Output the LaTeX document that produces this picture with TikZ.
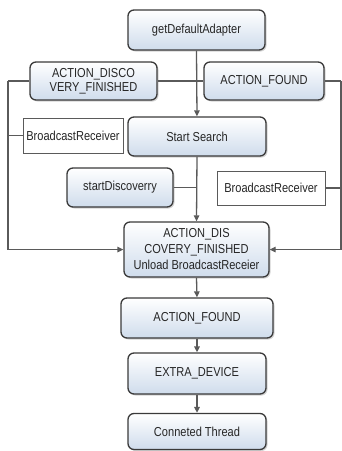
\documentclass[tikz,border=0pt]{standalone}
\usepackage{fontspec}
\setmainfont{Liberation Sans}[FakeStretch=0.85]
\usetikzlibrary{shadows,arrows.meta}
\definecolor{boxline}{HTML}{3A3A3A}
\definecolor{conn}{HTML}{5A5A5A}
\definecolor{boxbot}{HTML}{CFDCEC}
\tikzset{
  x=1pt,y=-1pt,
  every node/.style={font=\fontsize{13}{16}\selectfont, text=black!85, inner sep=1pt, align=center},
  rbox/.style={rectangle, rounded corners=6pt, draw=boxline, line width=1.3pt,
    top color=white, bottom color=boxbot,
    drop shadow={shadow xshift=1.5pt, shadow yshift=-1.5pt, opacity=0.35}},
  pbox/.style={rectangle, draw=conn, line width=0.9pt, fill=white},
  conline/.style={draw=conn, line width=1.3pt},
  conarrow/.style={conline, -{Triangle[length=6pt,width=5.5pt]}}
}
\begin{document}
\begin{tikzpicture}
\useasboundingbox (0,0) rectangle (342,451);
% nodes
\node[rbox, minimum width=137, minimum height=40] (gda) at (196.5,30) {getDefaultAdapter};
\node[rbox, minimum width=127, minimum height=38] (disco) at (93.5,81) {ACTION\_DISCO\\[-2pt]VERY\_FINISHED};
\node[rbox, minimum width=120, minimum height=38] (found) at (264,81) {ACTION\_FOUND};
\node[pbox, minimum width=100, minimum height=35] (brl) at (73,135.5) {BroadcastReceiver};
\node[rbox, minimum width=138, minimum height=39] (ss) at (197,136.5) {Start Search};
\node[rbox, minimum width=106, minimum height=39] (sd) at (120,187.5) {startDiscoverry};
\node[pbox, minimum width=108, minimum height=34] (brr) at (271,188) {BroadcastReceiver};
\node[rbox, minimum width=145, minimum height=55] (adis) at (196.5,249.5) {ACTION\_DIS\\COVERY\_FINISHED\\Unload BroadcastReceier};
\node[rbox, minimum width=152, minimum height=40] (af2) at (197,318) {ACTION\_FOUND};
\node[rbox, minimum width=138, minimum height=41] (ed) at (197,373.5) {EXTRA\_DEVICE};
\node[rbox, minimum width=138, minimum height=36] (ct) at (197,431.5) {Conneted Thread};
% coordinates
\coordinate (lt) at (8,81);
\coordinate (lb) at (8,249.5);
\coordinate (rt) at (341,81);
\coordinate (rb) at (341,249.5);
% connectors
\begin{scope}[on background layer/.try]
\end{scope}
\draw[conline] (disco.east) -- (found.west);
\draw[conarrow] (gda.south) -- (ss.north);
\draw[conline] (disco.west) -- (lt);
\draw[conline] (found.east) -- (rt);
\draw[conarrow] (lt) -- (lb) -- (adis.west);
\draw[conarrow] (rt) -- (rb) -- (adis.east);
\draw[conline] (brl.west) -- (brl.west -| lt);
\draw[conline] (brr.east) -- (brr.east -| rt);
\draw[conline] (sd.east) -- (sd.east -| ss.south);
\draw[conarrow] (ss.south) -- (adis.north);
\draw[conarrow] (adis.south) -- (af2.north);
\draw[conarrow] (af2.south) -- (ed.north);
\draw[conarrow] (ed.south) -- (ct.north);
\end{tikzpicture}
\end{document}
